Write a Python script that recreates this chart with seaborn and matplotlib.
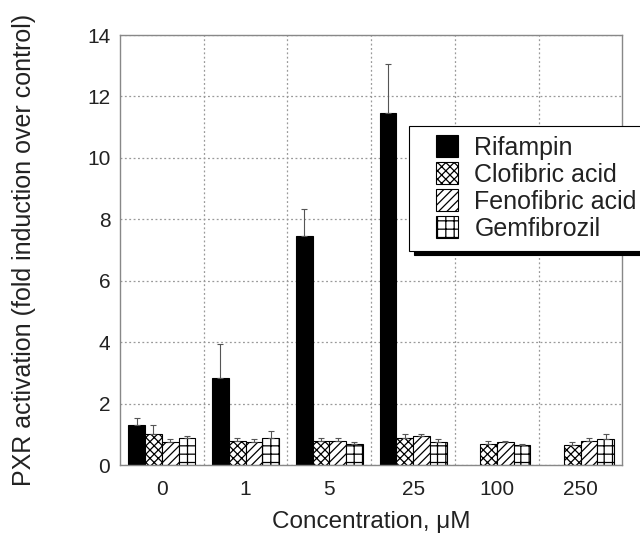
import matplotlib
matplotlib.use("Agg")
import matplotlib.pyplot as plt
from matplotlib.patches import Rectangle
from matplotlib.legend_handler import HandlerPatch
import seaborn as sns
import numpy as np
import pandas as pd

concentrations = ["0", "1", "5", "25", "100", "250"]
compounds = ["Rifampin", "Clofibric acid", "Fenofibric acid", "Gemfibrozil"]
rifampin = [1.3, 2.85, 7.45, 11.45, np.nan, np.nan]
rifampin_err = [0.25, 1.1, 0.9, 1.6, np.nan, np.nan]
clofibric = [1.0, 0.8, 0.8, 0.9, 0.7, 0.65]
clofibric_err = [0.3, 0.1, 0.1, 0.1, 0.08, 0.1]
fenofibric = [0.75, 0.75, 0.8, 0.95, 0.75, 0.8]
fenofibric_err = [0.1, 0.1, 0.1, 0.07, 0.05, 0.07]
gemfibrozil = [0.9, 0.9, 0.7, 0.75, 0.65, 0.85]
gemfibrozil_err = [0.05, 0.2, 0.05, 0.1, 0.05, 0.15]

values = [rifampin, clofibric, fenofibric, gemfibrozil]
errors = [rifampin_err, clofibric_err, fenofibric_err, gemfibrozil_err]
rows = []
for comp, vals, errs in zip(compounds, values, errors):
    for c, v, e in zip(concentrations, vals, errs):
        if not np.isnan(v):
            rows.append({"conc": c, "compound": comp, "value": v, "err": e})
df = pd.DataFrame(rows)

sns.set_style("white")
plt.rcParams['font.family'] = ['Liberation Sans', 'DejaVu Sans']
plt.rcParams['hatch.linewidth'] = 0.9

fig = plt.figure(figsize=(6.4, 5.39), dpi=100)
ax = fig.add_axes([0.1875, 0.137, 0.785, 0.798])

palette = {"Rifampin": "black", "Clofibric acid": "white",
           "Fenofibric acid": "white", "Gemfibrozil": "white"}
sns.barplot(data=df, x="conc", y="value", hue="compound", order=concentrations,
            hue_order=compounds, palette=palette, errorbar=None, width=0.8,
            edgecolor="black", linewidth=0.8, ax=ax, legend=True, saturation=1)

hatches = [None, "xxxx", "////", "++"]
for cont, comp, h in zip(ax.containers, compounds, hatches):
    sub = df[df.compound == comp].set_index("conc").reindex(
        [c for c in concentrations if c in set(df[df.compound == comp].conc)])
    for bar, (_, r) in zip(cont, sub.iterrows()):
        if h:
            bar.set_hatch(h)
        xc = bar.get_x() + bar.get_width() / 2
        ax.errorbar(xc, bar.get_height(), yerr=[[0], [r["err"]]], fmt="none",
                    ecolor="#555555", elinewidth=0.8, capsize=2, capthick=0.8)

ax.set_ylim(0, 14)
ax.set_xlim(-0.5, 5.5)
ax.set_yticks(range(0, 15, 2))
ax.set_xticks(np.arange(0.5, 5.5, 1), minor=True)
ax.grid(True, which="major", axis="y", color="#999999", linestyle=(0, (1.5, 2)), linewidth=0.9)
ax.grid(True, which="minor", axis="x", color="#999999", linestyle=(0, (1.5, 2)), linewidth=0.9)
ax.set_axisbelow(True)
ax.tick_params(axis="both", which="both", length=0, labelsize=15, colors="#222222")
ax.tick_params(axis="x", pad=11)
ax.tick_params(axis="y", pad=7)
for s in ax.spines.values():
    s.set_color("#888888")
    s.set_linewidth(1.0)

ax.set_xlabel("Concentration, \u03bcM", fontsize=17.5, labelpad=8, color="#222222")
ax.set_ylabel("PXR activation (fold induction over control)", fontsize=18,
              labelpad=37, color="#222222")


def square_patch(legend, orig_handle, xdescent, ydescent, width, height, fontsize):
    side = height * 1.05
    return Rectangle((-xdescent + width - side, -ydescent - (side - height) / 2), side, side)


handler = HandlerPatch(patch_func=square_patch)
handles, labels = ax.get_legend_handles_labels()
leg = ax.legend(handles, labels, loc="upper left", bbox_to_anchor=(0.576, 0.789), fontsize=18,
                frameon=True, fancybox=False,
                shadow={"color": "black", "alpha": 1, "ox": 3, "oy": -3},
                handlelength=1.55, handleheight=0.9, handletextpad=0.65,
                labelspacing=0.12, borderpad=0.4, borderaxespad=0,
                handler_map={h: handler for h in handles})
leg.get_frame().set_edgecolor("black")
leg.get_frame().set_linewidth(0.8)
for txt in leg.get_texts():
    txt.set_color("#222222")
for patch, h in zip(leg.get_patches(), hatches):
    patch.set_edgecolor("black")
    if h:
        patch.set_hatch(h)

fig.savefig("out.png", dpi=100)
